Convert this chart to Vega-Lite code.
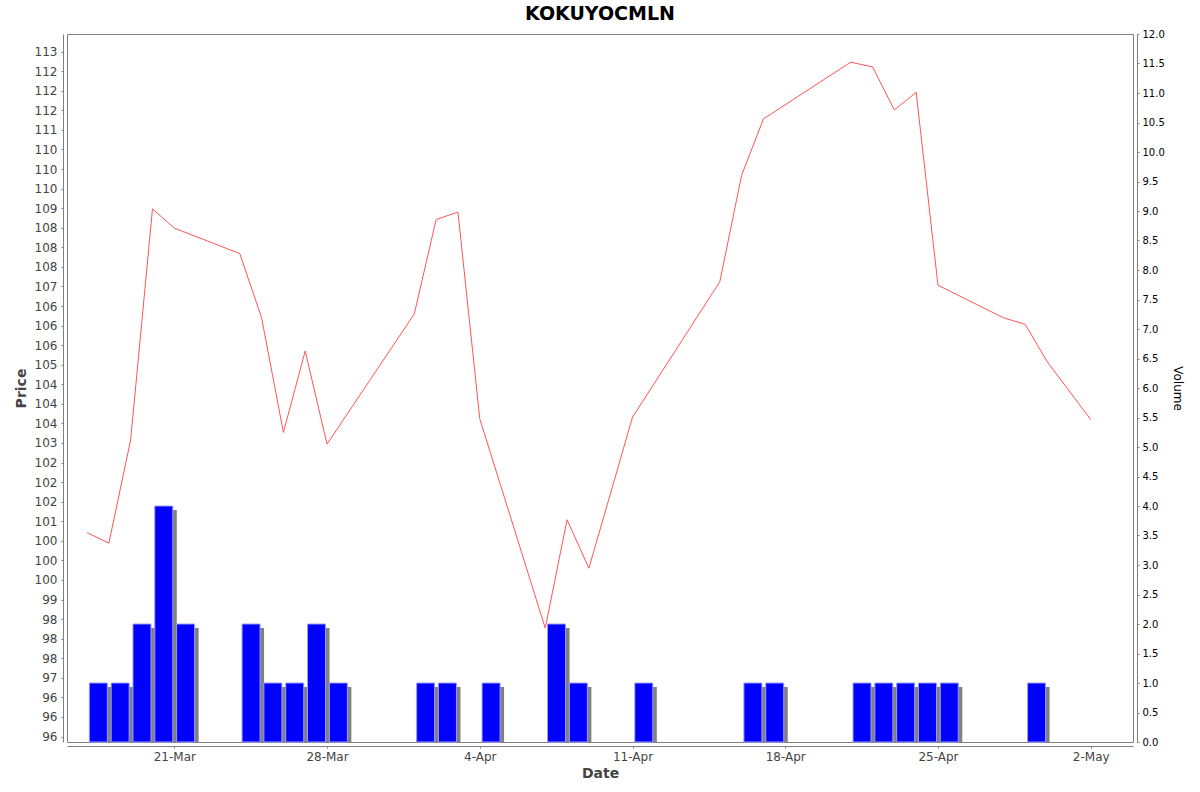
{
  "$schema": "https://vega.github.io/schema/vega-lite/v6.json",
  "autosize": "none",
  "width": 1066,
  "height": 708,
  "padding": {"left": 67, "top": 34, "right": 67, "bottom": 50},
  "background": "white",
  "title": {
    "text": "KOKUYOCMLN",
    "font": "DejaVu Sans",
    "fontSize": 19,
    "fontWeight": "bold",
    "color": "#000000",
    "anchor": "middle",
    "offset": 5
  },
  "datasets": {
    "prices": [
      {"date": "2025-03-17", "price": 100.71},
      {"date": "2025-03-18", "price": 100.44},
      {"date": "2025-03-19", "price": 103.08},
      {"date": "2025-03-20", "price": 108.98},
      {"date": "2025-03-21", "price": 108.49},
      {"date": "2025-03-24", "price": 107.84},
      {"date": "2025-03-25", "price": 106.2},
      {"date": "2025-03-26", "price": 103.27},
      {"date": "2025-03-27", "price": 105.35},
      {"date": "2025-03-28", "price": 102.97},
      {"date": "2025-04-01", "price": 106.3},
      {"date": "2025-04-02", "price": 108.71},
      {"date": "2025-04-03", "price": 108.9},
      {"date": "2025-04-04", "price": 103.62},
      {"date": "2025-04-07", "price": 98.27},
      {"date": "2025-04-08", "price": 101.04},
      {"date": "2025-04-09", "price": 99.8},
      {"date": "2025-04-11", "price": 103.66},
      {"date": "2025-04-15", "price": 107.12},
      {"date": "2025-04-16", "price": 109.84},
      {"date": "2025-04-17", "price": 111.28},
      {"date": "2025-04-21", "price": 112.73},
      {"date": "2025-04-22", "price": 112.61},
      {"date": "2025-04-23", "price": 111.51},
      {"date": "2025-04-24", "price": 111.96},
      {"date": "2025-04-25", "price": 107.03},
      {"date": "2025-04-28", "price": 106.2},
      {"date": "2025-04-29", "price": 106.03},
      {"date": "2025-04-30", "price": 105.08},
      {"date": "2025-05-02", "price": 103.6}
    ],
    "volumes": [
      {"date": "2025-03-17", "volume": 1},
      {"date": "2025-03-18", "volume": 1},
      {"date": "2025-03-19", "volume": 2},
      {"date": "2025-03-20", "volume": 4},
      {"date": "2025-03-21", "volume": 2},
      {"date": "2025-03-24", "volume": 2},
      {"date": "2025-03-25", "volume": 1},
      {"date": "2025-03-26", "volume": 1},
      {"date": "2025-03-27", "volume": 2},
      {"date": "2025-03-28", "volume": 1},
      {"date": "2025-04-01", "volume": 1},
      {"date": "2025-04-02", "volume": 1},
      {"date": "2025-04-04", "volume": 1},
      {"date": "2025-04-07", "volume": 2},
      {"date": "2025-04-08", "volume": 1},
      {"date": "2025-04-11", "volume": 1},
      {"date": "2025-04-16", "volume": 1},
      {"date": "2025-04-17", "volume": 1},
      {"date": "2025-04-21", "volume": 1},
      {"date": "2025-04-22", "volume": 1},
      {"date": "2025-04-23", "volume": 1},
      {"date": "2025-04-24", "volume": 1},
      {"date": "2025-04-25", "volume": 1},
      {"date": "2025-04-29", "volume": 1}
    ]
  },
  "encoding": {
    "x": {
      "field": "date",
      "type": "temporal",
      "scale": {
        "type": "utc",
        "padding": 0,
        "domain": [
          {"year": 2025, "month": 3, "date": 16, "hours": 1, "minutes": 58, "utc": true},
          {"year": 2025, "month": 5, "date": 3, "hours": 22, "minutes": 30, "utc": true}
        ]
      },
      "axis": {
        "title": "Date",
        "offset": 4,
        "values": [
          {"year": 2025, "month": 3, "date": 21, "utc": true},
          {"year": 2025, "month": 3, "date": 28, "utc": true},
          {"year": 2025, "month": 4, "date": 4, "utc": true},
          {"year": 2025, "month": 4, "date": 11, "utc": true},
          {"year": 2025, "month": 4, "date": 18, "utc": true},
          {"year": 2025, "month": 4, "date": 25, "utc": true},
          {"year": 2025, "month": 5, "date": 2, "utc": true}
        ],
        "labelExpr": "utcFormat(datum.value, '%-d-%b')",
        "labelFontSize": 12,
        "labelColor": "#444444",
        "labelPadding": 3,
        "tickSize": 2,
        "titleFontSize": 14,
        "titleFontWeight": "bold",
        "titleColor": "#444444",
        "titlePadding": 4
      }
    }
  },
  "layer": [
    {
      "data": {"name": "volumes"},
      "mark": {
        "type": "bar",
        "color": "#808080",
        "width": 18,
        "xOffset": 15.3,
        "yOffset": 4,
        "y2Offset": 0
      },
      "encoding": {
        "y": {"field": "volume", "type": "quantitative", "scale": {"domain": [0, 12]}, "axis": null},
        "y2": {"datum": 0}
      }
    },
    {
      "data": {"name": "volumes"},
      "mark": {
        "type": "bar",
        "fill": "#0000ff",
        "stroke": "#9a9aff",
        "strokeWidth": 1,
        "width": 18,
        "xOffset": 11.3
      },
      "encoding": {
        "y": {
          "field": "volume",
          "type": "quantitative",
          "scale": {"domain": [0, 12]},
          "axis": {
            "orient": "right",
            "title": "Volume",
            "offset": 4,
            "values": [0, 0.5, 1, 1.5, 2, 2.5, 3, 3.5, 4, 4.5, 5, 5.5, 6, 6.5, 7, 7.5, 8, 8.5, 9, 9.5, 10, 10.5, 11, 11.5, 12],
            "format": ".1f",
            "labelFontSize": 10,
            "labelColor": "#000000",
            "labelPadding": 3,
            "tickSize": 2,
            "titleFontSize": 12,
            "titleFontWeight": "normal",
            "titleColor": "#000000",
            "titlePadding": 6
          }
        }
      }
    },
    {
      "data": {"name": "prices"},
      "mark": {"type": "line", "color": "#ff5555", "strokeWidth": 1},
      "encoding": {
        "y": {
          "field": "price",
          "type": "quantitative",
          "scale": {"domain": [95.36, 113.45], "zero": false},
          "axis": {
            "orient": "left",
            "title": "Price",
            "offset": 4,
            "values": [95.5, 96, 96.5, 97, 97.5, 98, 98.5, 99, 99.5, 100, 100.5, 101, 101.5, 102, 102.5, 103, 103.5, 104, 104.5, 105, 105.5, 106, 106.5, 107, 107.5, 108, 108.5, 109, 109.5, 110, 110.5, 111, 111.5, 112, 112.5, 113],
            "labelExpr": "(datum.value % 1 == 0.5) ? ((floor(datum.value) % 2 == 0 ? floor(datum.value) : floor(datum.value) + 1) + '') : (round(datum.value) + '')",
            "labelFontSize": 12,
            "labelColor": "#444444",
            "labelPadding": 4,
            "tickSize": 2,
            "titleFontSize": 14,
            "titleFontWeight": "bold",
            "titleColor": "#444444",
            "titlePadding": 6
          }
        }
      }
    }
  ],
  "resolve": {"scale": {"y": "independent"}},
  "config": {
    "font": "DejaVu Sans",
    "view": {"stroke": "#808080", "strokeWidth": 1},
    "axis": {"grid": false, "domainColor": "#808080", "tickColor": "#808080"}
  }
}
